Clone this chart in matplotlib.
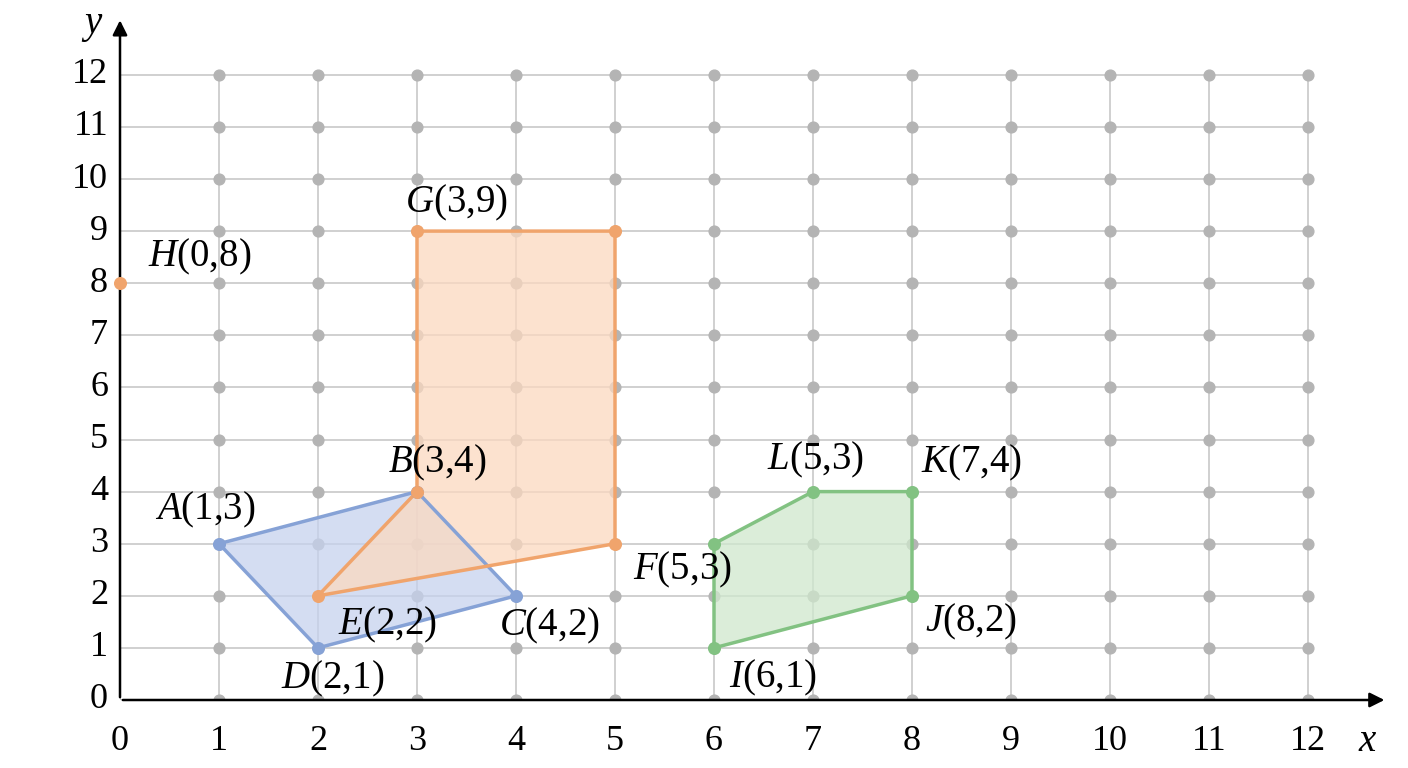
import matplotlib
matplotlib.use("Agg")
import matplotlib.pyplot as plt
from matplotlib.patches import Polygon

plt.rcParams['mathtext.fontset'] = 'custom'
plt.rcParams['mathtext.it'] = 'Liberation Serif:italic'
plt.rcParams['mathtext.rm'] = 'Liberation Serif'
plt.rcParams['font.family'] = 'Liberation Serif'

blue_poly = [(1, 3), (3, 4), (4, 2), (2, 1)]
orange_poly = [(3, 9), (5, 9), (5, 3), (2, 2), (3, 4)]
green_poly = [(6, 3), (7, 4), (8, 4), (8, 2), (6, 1)]
H_point = (0, 8)
labels = [("H", "(0,8)", 0.8, 8.5), ("G", "(3,9)", 3.4, 9.55), ("B", "(3,4)", 3.2, 4.55),
          ("A", "(1,3)", 0.86, 3.65), ("E", "(2,2)", 2.7, 1.45), ("C", "(4,2)", 4.34, 1.42),
          ("D", "(2,1)", 2.15, 0.4), ("F", "(5,3)", 5.68, 2.5), ("L", "(5,3)", 7.02, 4.6),
          ("K", "(7,4)", 8.6, 4.55), ("J", "(8,2)", 8.6, 1.5), ("I", "(6,1)", 6.6, 0.42)]

fig = plt.figure(figsize=(14.08, 7.68), dpi=100)
ux, uy = 99.0, 52.1
xmax, ymax = 12.8, 13.1
ax = fig.add_axes([120/1408, 68/768, xmax*ux/1408, ymax*uy/768])
ax.set_xlim(0, xmax); ax.set_ylim(0, ymax)
for s in ax.spines.values():
    s.set_visible(False)

for i in range(0, 13):
    ax.plot([i, i], [0, 12], color='#c8c8c8', lw=1.2, zorder=1)
    ax.plot([0, 12], [i, i], color='#c8c8c8', lw=1.2, zorder=1)
xs = [x for x in range(1, 13) for y in range(0, 13)]
ys = [y for x in range(1, 13) for y in range(0, 13)]
ax.scatter(xs, ys, s=60, color='#b4b4b4', zorder=2)

for pts, ec, fc in [(blue_poly, '#86a2d6', '#c6d2ee'), (orange_poly, '#f0a46c', '#fbd9c0'),
                    (green_poly, '#82c282', '#cfe8cd')]:
    ax.add_patch(Polygon(pts, closed=True, facecolor=fc, edgecolor='none', alpha=0.75, zorder=3))
    ax.add_patch(Polygon(pts, closed=True, facecolor='none', edgecolor=ec, lw=2.5, zorder=4))
    ax.scatter([p[0] for p in pts], [p[1] for p in pts], s=70, color=ec, zorder=5)
ax.scatter([H_point[0]], [H_point[1]], s=70, color='#f0a46c', zorder=5, clip_on=False)

for let, coord, x, y in labels:
    ax.text(x, y, f"${let}$" + coord, fontsize=28, ha='center', va='center', zorder=6)

ax.annotate('', xy=(12.8, 0), xytext=(0, 0), arrowprops=dict(arrowstyle='-|>', color='black', lw=1.8, mutation_scale=22), annotation_clip=False)
ax.annotate('', xy=(0, 13.1), xytext=(0, 0), arrowprops=dict(arrowstyle='-|>', color='black', lw=1.8, mutation_scale=22), annotation_clip=False)
ax.set_xticks([]); ax.set_yticks([])
for i in range(0, 13):
    ax.text(i, -0.8, str(i), fontsize=26, ha='center', va='center')
    ax.text(-0.12, i, str(i), fontsize=26, ha='right', va='center')
ax.text(12.6, -0.8, '$x$', fontsize=28, ha='center', va='center')
ax.text(-0.28, 12.95, '$y$', fontsize=28, ha='center', va='center')

fig.savefig('out.png', dpi=100)
